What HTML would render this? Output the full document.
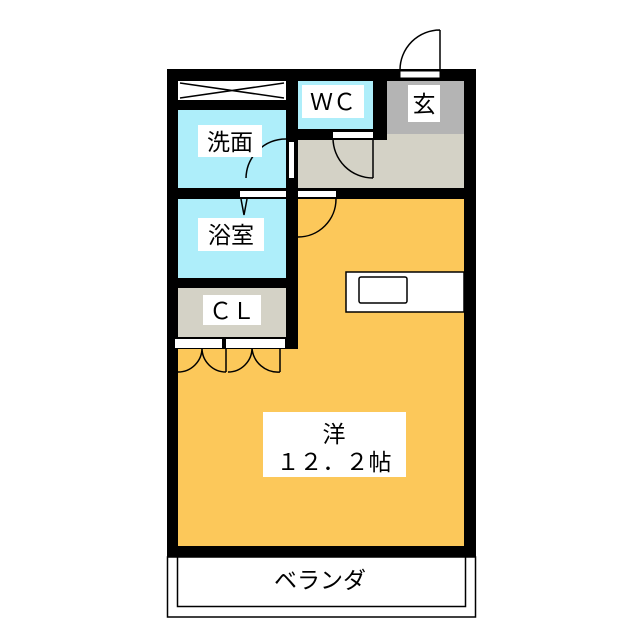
<!DOCTYPE html><html><head><meta charset="utf-8"><style>body{margin:0;background:#fff}svg{display:block}text{font-family:"Liberation Sans","Noto Sans CJK JP",sans-serif;font-size:23px;fill:#000}</style></head><body>
<svg width="640" height="640" viewBox="0 0 640 640">
<rect x="167" y="69" width="309" height="488" fill="#000"/>
<rect x="178" y="199" width="286" height="347" fill="#fcc85a"/>
<rect x="178" y="81" width="108" height="19" fill="#fff"/>
<path d="M180 83 L284 98 M180 98 L284 83" stroke="#000" stroke-width="1.5"/>
<rect x="178" y="110" width="108" height="78" fill="#aeeefa"/>
<rect x="298" y="81" width="75" height="48" fill="#aeeefa"/>
<rect x="387" y="81" width="77" height="53" fill="#b4b4b4"/>
<rect x="298" y="134" width="166" height="54" fill="#d4d2c6"/>
<rect x="298" y="129" width="89" height="11" fill="#000"/>
<rect x="373" y="81" width="14" height="59" fill="#000"/>
<rect x="178" y="199" width="108" height="79" fill="#aeeefa"/>
<rect x="178" y="278" width="108" height="10" fill="#000"/>
<rect x="178" y="288" width="108" height="49" fill="#d4d2c6"/>
<rect x="286" y="81" width="12" height="268" fill="#000"/>
<rect x="167" y="337" width="131" height="12" fill="#000"/>
<rect x="178" y="349" width="108" height="10" fill="#fcc85a"/>
<rect x="346" y="272" width="118" height="40" fill="#fff" stroke="#000" stroke-width="1.5"/>
<rect x="359" y="277" width="48" height="26" rx="2" fill="#fff" stroke="#000" stroke-width="1.5"/>
<g fill="none" stroke="#000" stroke-width="1.5">
<path d="M440 30 A40 40 0 0 0 400 70 M440 30 L440 70"/>
<path d="M286 139 A40 40 0 0 0 246 178"/>
<path d="M333 138 A40 40 0 0 0 373 178 M373 138 L373 178"/>
<path d="M336 199 A38 38 0 0 1 298 237"/>
<path d="M241 199 L244 215 L247 199"/>
<path d="M178 372 A24 24 0 0 0 202 348 A24 24 0 0 0 226 372 M226 348 L226 372 M228 372 A24 24 0 0 0 252 348 A26 26 0 0 0 280 372 M280 348 L280 372"/>
</g>
<rect x="400" y="71" width="40" height="7" fill="#fff" stroke="#000"/>
<rect x="289" y="142" width="5" height="36" fill="#fff"/>
<rect x="333" y="132" width="40" height="6" fill="#fff"/>
<rect x="298" y="191" width="38" height="6" fill="#fff"/>
<rect x="240" y="191" width="46" height="6" fill="#fff"/>
<rect x="175" y="339" width="47" height="9" fill="#fff"/>
<rect x="226" y="339" width="59" height="9" fill="#fff"/>
<rect x="167.5" y="557" width="308" height="60" fill="#fff" stroke="#000" stroke-width="1.5"/>
<rect x="177.5" y="557" width="288" height="49.5" fill="#fff" stroke="#000" stroke-width="1.5"/>
<rect x="167" y="546" width="309" height="11" fill="#000"/>
<rect x="302" y="85" width="62" height="33" fill="#fff"/><text x="333" y="110" text-anchor="middle">ＷＣ</text>
<rect x="408" y="85" width="32" height="37" fill="#fff"/><text x="424" y="112" text-anchor="middle">玄</text>
<rect x="198" y="125" width="64" height="32" fill="#fff"/><text x="230" y="150" text-anchor="middle">洗面</text>
<rect x="198" y="218" width="66" height="33" fill="#fff"/><text x="231" y="243" text-anchor="middle">浴室</text>
<rect x="203" y="295" width="58" height="30" fill="#fff"/><text x="232" y="319" text-anchor="middle">ＣＬ</text>
<rect x="263" y="412" width="143" height="65" fill="#fff"/><text x="334" y="442" text-anchor="middle">洋</text><text x="334" y="470" text-anchor="middle">１２．２帖</text>
<text x="320" y="588" text-anchor="middle">ベランダ</text>
</svg></body></html>
